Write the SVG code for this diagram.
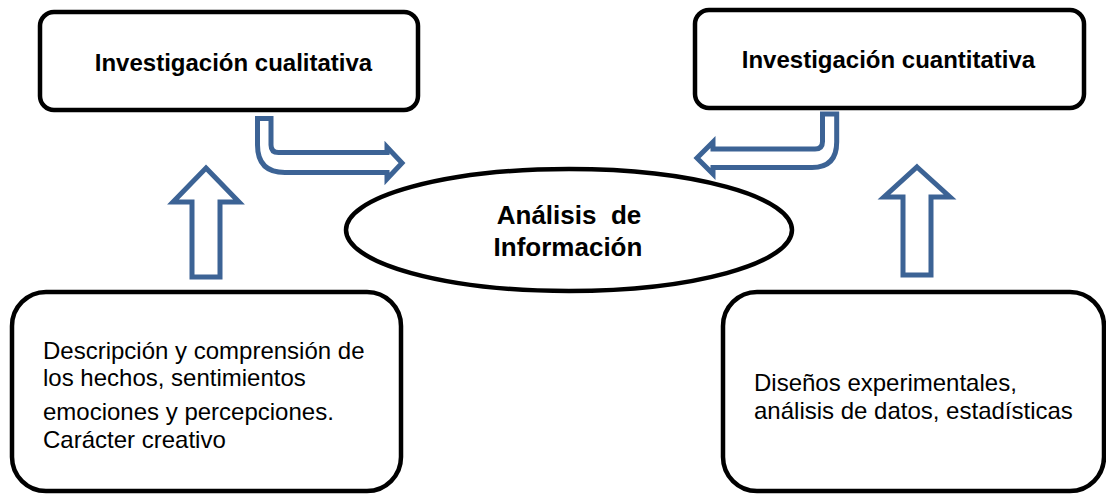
<svg xmlns="http://www.w3.org/2000/svg" width="1106" height="494" viewBox="0 0 1106 494">
<style>
.box{fill:#fff;stroke:#000;stroke-width:4.5}
.arr{fill:#fff;stroke:#3C6395;stroke-width:5;stroke-linejoin:miter}
.tb{font-family:"Liberation Sans",Arial,sans-serif;font-weight:bold;fill:#000}
.tr{font-family:"Liberation Sans",Arial,sans-serif;fill:#000}
</style>
<rect width="1106" height="494" fill="#fff"/>
<g id="connectors">
<path class="arr" d="M257.5,118.5 H271 V145 Q271,152.5 278.5,152.5 H387 V147 L402,163 L387,179 V172.5 H285 Q257.5,172.5 257.5,145 Z"/>
<path class="arr" d="M822.5,114 H836.7 V142 Q836.7,167.5 812,167.5 H713 V174 L697,158 L713,142 V149 H815 Q822.5,149 822.5,141.5 Z"/>
<path class="arr" d="M206,168 L239,202 H220 V277 H192 V202 H173 Z"/>
<path class="arr" d="M917,167 L950,197 H931 V275 H903 V197 H884 Z"/>
</g>
<g id="cualitativa">
<rect class="box" x="40" y="12" width="378" height="98" rx="14"/>
<text class="tb" x="233.5" y="71" font-size="24" text-anchor="middle">Investigación cualitativa</text>
</g>
<g id="cuantitativa">
<rect class="box" x="695" y="10" width="389" height="98" rx="14"/>
<text class="tb" x="888.5" y="68" font-size="24" text-anchor="middle">Investigación cuantitativa</text>
</g>
<g id="analisis">
<ellipse class="box" cx="569" cy="230" rx="223" ry="61"/>
<text class="tb" x="569" y="224" font-size="26" text-anchor="middle" xml:space="preserve">Análisis  de</text>
<text class="tb" x="568" y="256" font-size="26" text-anchor="middle">Información</text>
</g>
<g id="descripcion">
<rect class="box" x="12" y="292" width="389" height="199" rx="34"/>
<text class="tr" font-size="24">
<tspan x="43" y="359">Descripción y comprensión de</tspan>
<tspan x="43" y="386">los hechos, sentimientos</tspan>
<tspan x="43" y="420">emociones y percepciones.</tspan>
<tspan x="43" y="448">Carácter creativo</tspan>
</text>
</g>
<g id="disenos">
<rect class="box" x="723" y="292" width="381" height="199" rx="34"/>
<text class="tr" font-size="24">
<tspan x="754" y="391">Diseños experimentales,</tspan>
<tspan x="754" y="419">análisis de datos, estadísticas</tspan>
</text>
</g>
</svg>
